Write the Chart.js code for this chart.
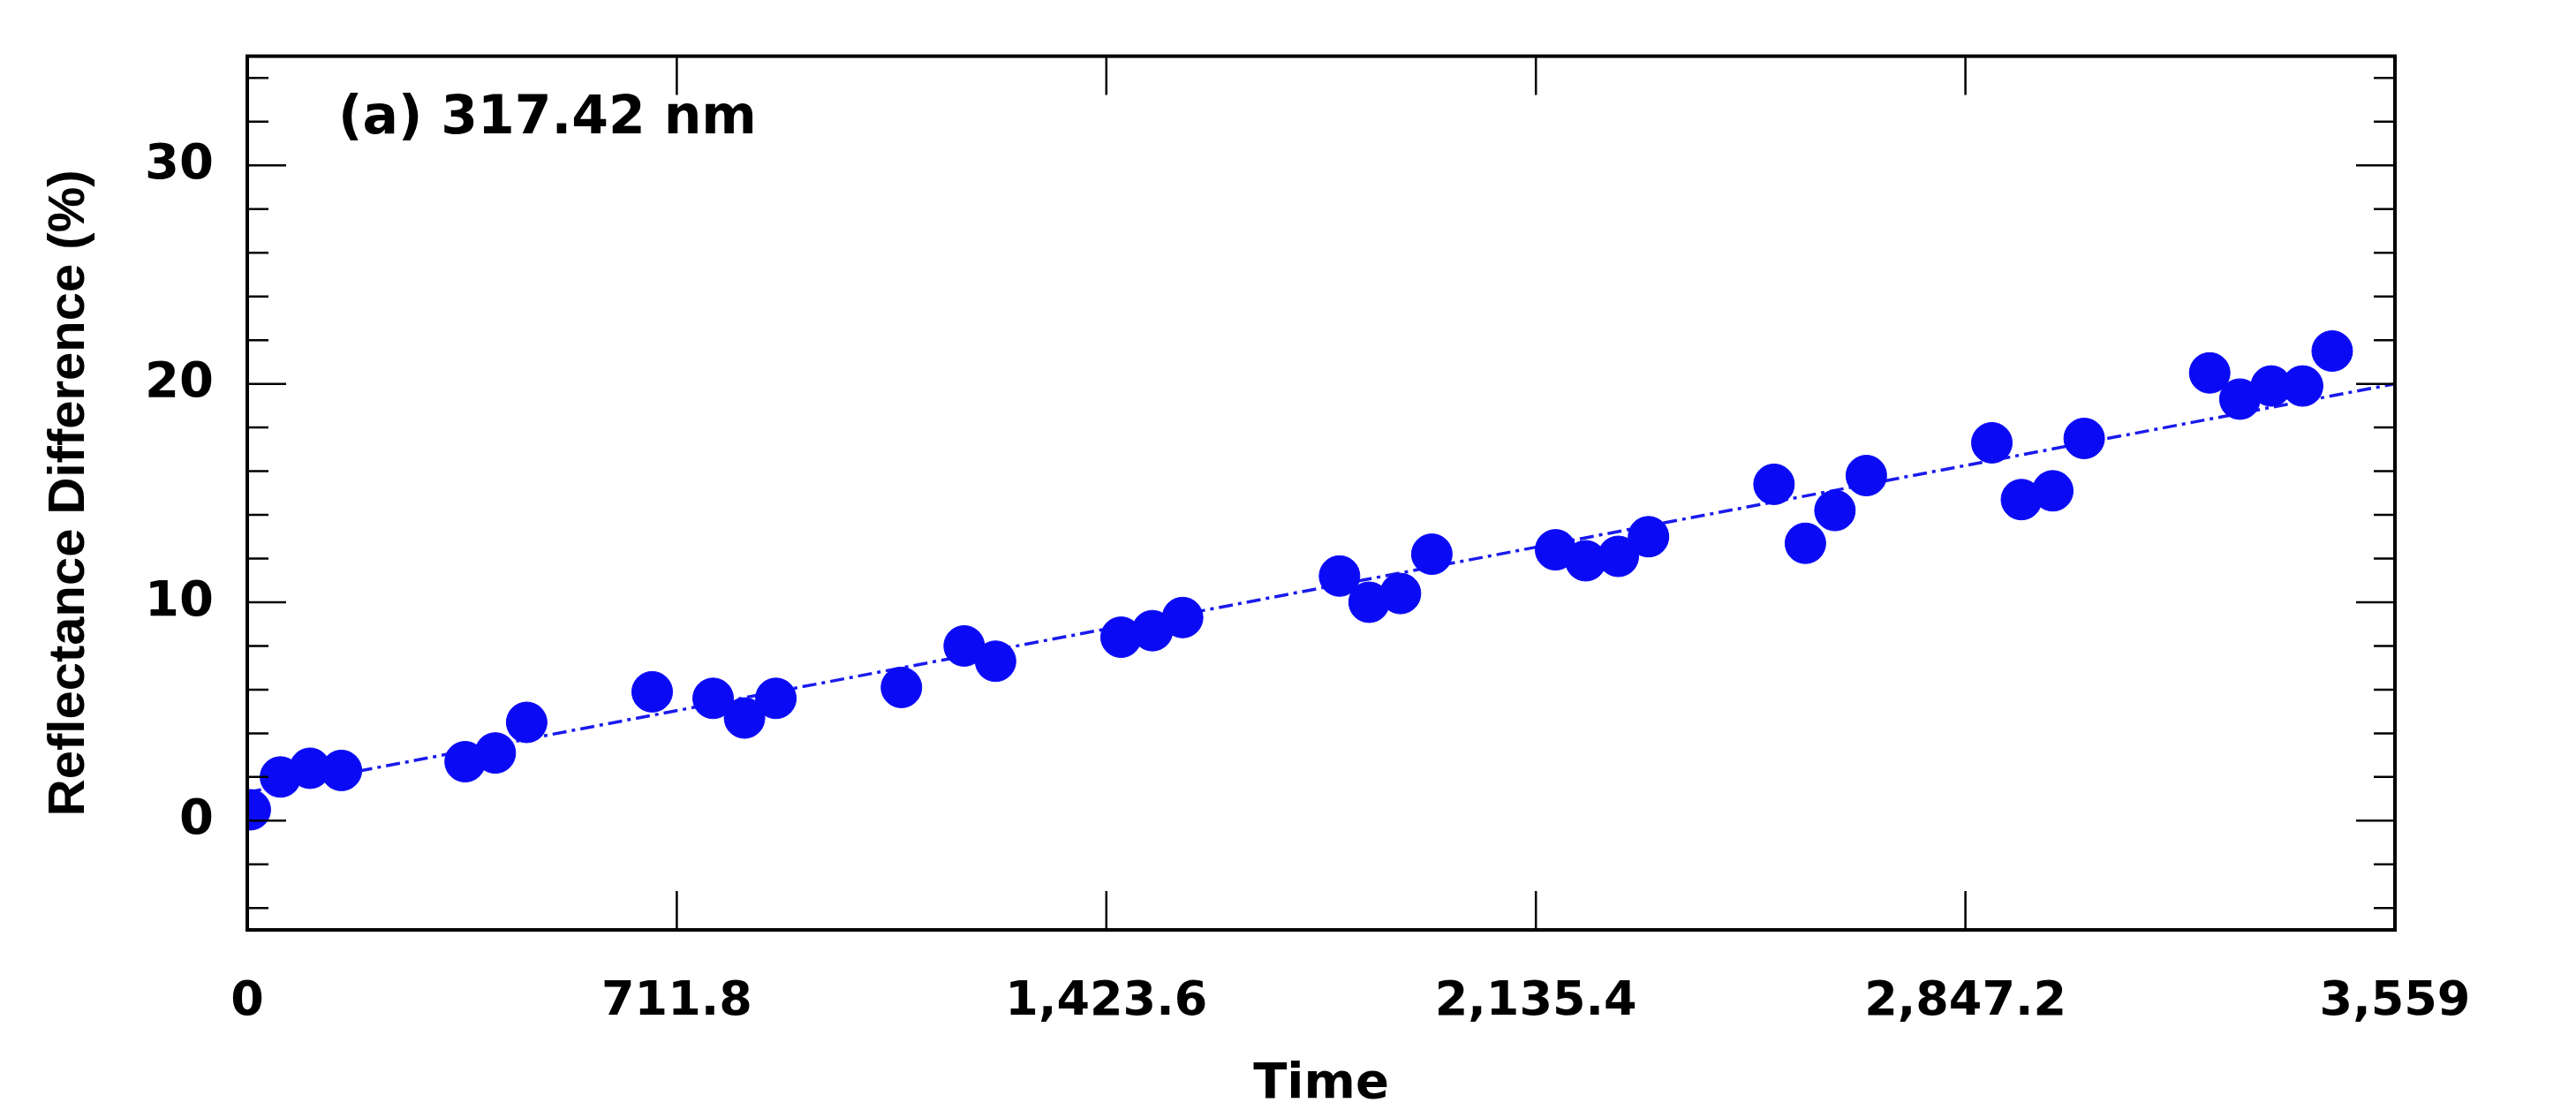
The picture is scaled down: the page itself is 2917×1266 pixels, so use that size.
<!DOCTYPE html>
<html><head><meta charset="utf-8">
<script src="https://cdn.jsdelivr.net/npm/chart.js@4/dist/chart.umd.min.js"></script>
<style>html,body{margin:0;padding:0;background:#fff}#w{width:2917px;height:1266px}</style>
</head><body><div id="w"><canvas id="c"></canvas></div>
<script>
// days since 04/19/2013
const dayOffsets = [5,55,104,156,361,411,463,671,772,824,876,1084,1188,1240,1448,1500,1550,1810,1859,1911,1963,2168,2218,2272,2322,2530,2582,2631,2683,2891,2940,2992,3044,3252,3302,3354,3406,3455];
const reflDiff = [0.5,2.0,2.4,2.3,2.7,3.1,4.5,5.9,5.6,4.7,5.6,6.1,8.0,7.3,8.4,8.7,9.3,11.2,10.0,10.4,12.2,12.4,11.9,12.1,13.0,15.4,12.7,14.2,15.8,17.3,14.7,15.1,17.5,20.5,19.3,19.9,19.9,21.5];
const trendDays = [0,3559];
const trendVals = [1.3,20.0];
const dateLabels = ['04/19/2013','03/31/2015','03/12/2017','02/22/2019','02/03/2021','01/16/2023'];
const dateTickDays = [0,711.8,1423.6,2135.4,2847.2,3559];

const tickPlugin = {
  id:'ticks',
  afterDatasetsDraw(ch){
    const c=ch.ctx,a=ch.chartArea,x=ch.scales.x,y=ch.scales.y;
    c.save();c.strokeStyle='#000';c.lineWidth=2.5;
    for(let v=-4;v<=34;v+=2){const p=y.getPixelForValue(v);const L=(v%10===0)?44:24;
      c.beginPath();c.moveTo(a.left,p);c.lineTo(a.left+L,p);c.moveTo(a.right,p);c.lineTo(a.right-L,p);c.stroke();}
    dateTickDays.forEach(d=>{const p=x.getPixelForValue(d);
      c.beginPath();c.moveTo(p,a.bottom);c.lineTo(p,a.bottom-44);c.moveTo(p,a.top);c.lineTo(p,a.top+44);c.stroke();});
    c.lineWidth=4;c.strokeRect(a.left,a.top,a.right-a.left,a.bottom-a.top);
    c.fillStyle='#000';c.font='bold 60px "DejaVu Sans"';c.textBaseline='middle';
    c.fillText('(a) 317.42 nm',a.left+103,a.top+72);
    c.restore();
  }
};

new Chart(document.getElementById('c'),{
  type:'scatter',
  data:{datasets:[
    {data:dayOffsets.map((d,i)=>({x:d,y:reflDiff[i]})),backgroundColor:'#0a0af5',borderColor:'#0a0af5',pointRadius:23,pointHoverRadius:23},
    {type:'line',data:trendDays.map((d,i)=>({x:d,y:trendVals[i]})),borderColor:'#1a1aee',borderWidth:3.5,borderDash:[16,6,4,6],pointRadius:0,fill:false}
  ]},
  options:{
    responsive:true,maintainAspectRatio:false,animation:false,
    layout:{padding:{top:34,right:205,left:40,bottom:0}},
    plugins:{legend:{display:false},tooltip:{enabled:false}},
    scales:{
      x:{type:'linear',min:0,max:3559,
        afterBuildTicks(s){s.ticks=dateTickDays.map(v=>({value:v}));},
        afterFit(s){s.height=213;},
        grid:{display:false},border:{display:false},
        ticks:{autoSkip:false,maxRotation:0,padding:42,color:'#000',font:{family:'DejaVu Sans',weight:'bold',size:54}},
        title:{display:true,text:'Time',color:'#000',font:{family:'DejaVu Sans',weight:'bold',size:56},padding:{top:10}}
      },
      y:{min:-5,max:35,
        afterBuildTicks(s){s.ticks=[0,10,20,30].map(v=>({value:v}));},
        afterFit(s){s.width=240;},
        grid:{display:false},border:{display:false},
        ticks:{padding:30,color:'#000',font:{family:'DejaVu Sans',weight:'bold',size:56}},
        title:{display:true,text:'Reflectance Difference (%)',color:'#000',font:{family:'Liberation Sans',weight:'bold',size:58},padding:{bottom:30}}
      }
    }
  },
  plugins:[tickPlugin]
});
</script></body></html>
